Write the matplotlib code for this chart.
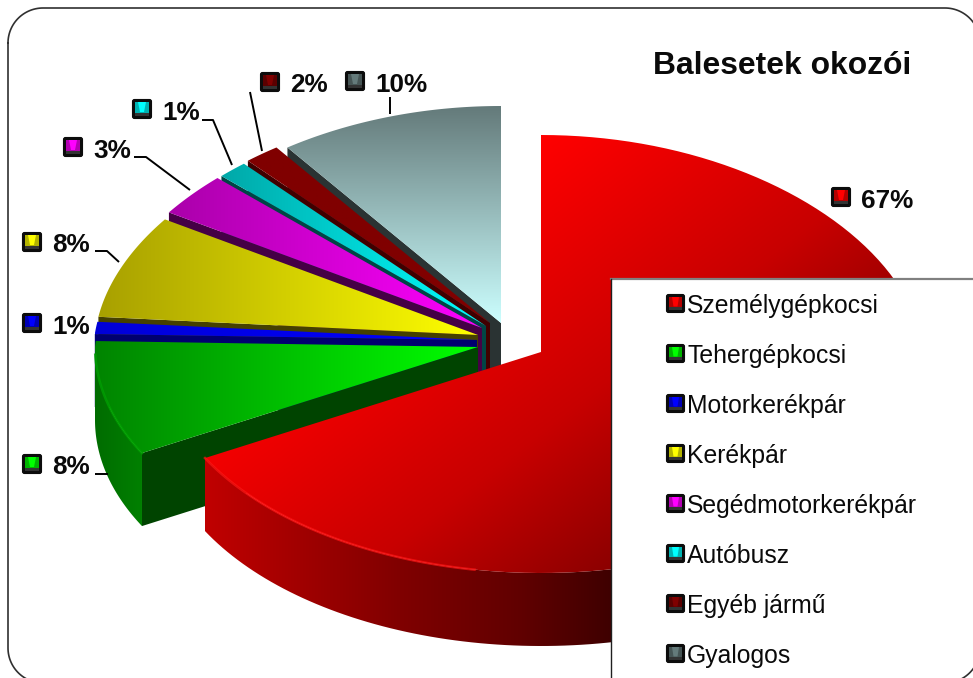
import numpy as np
import matplotlib
matplotlib.use("Agg")
import matplotlib.pyplot as plt
from matplotlib.colors import LinearSegmentedColormap, to_rgb
from matplotlib.patches import FancyBboxPatch, Polygon, Rectangle

plt.rcParams["font.family"] = ["Liberation Sans", "DejaVu Sans"]

# data
title = "Balesetek okozói"
categories = ["Személygépkocsi", "Tehergépkocsi", "Motorkerékpár", "Kerékpár",
              "Segédmotorkerékpár", "Autóbusz", "Egyéb jármű", "Gyalogos"]
shares = [67, 8.4, 0.9, 7.6, 3.2, 1.3, 1.55, 10]

# slice styles, same order as categories
top_dark = ["#a80000", "#008400", "#0000d8", "#a8a000", "#aa00aa", "#00a8a8", "#800000", "#647a7a"]
top_light = ["#ff0000", "#00ff00", "#0000ff", "#ffff00", "#ff00ff", "#00ffff", "#800000", "#ccffff"]
wall_col = ["#400000", "#004400", "#000070", "#454000", "#450045", "#004545", "#400000", "#2a3333"]
rim_left = ["#c00000", "#006c00", "#0000d8", "#808000", "#800080", "#008080", "#600000", "#405050"]
rim_right = ["#300000", "#008000", "#0000d8", "#808000", "#800080", "#008080", "#600000", "#405050"]
apex = [(541, 352), (478, 347), (477, 340), (478, 335), (482, 328), (486, 326), (490, 323), (501, 323)]

# label styles: marker left/top
pct_pos = [(831, 187), (22, 454), (22, 313), (22, 232), (63, 137), (132, 99), (260, 72), (345, 71)]
leaders = [None,
           [(95, 474), (108, 474)],
           None,
           [(95, 251), (107, 251), (119, 262)],
           [(134, 157), (146, 157), (190, 190)],
           [(202, 120), (213, 120), (232, 165)],
           [(250, 92), (262, 151)],
           [(390, 97), (390, 114)]]
legend_y = [305, 355, 405, 455, 505, 555, 605, 655]

DEPTH = 73
RX, RY_BACK, RY_FRONT = 383, 217, 221

W, H = 973, 678
fig = plt.figure(figsize=(W / 100, H / 100), dpi=100)
ax = fig.add_axes([0, 0, 1, 1])
ax.set_xlim(0, W)
ax.set_ylim(H, 0)
ax.axis("off")


def rim_points(center, a0, a1, n=120):
    # angles in degrees, clockwise from 12 o'clock
    a = np.radians(np.linspace(a0, a1, n))
    f = 1 - 0.064 * np.maximum(np.cos(a), 0)
    ry = np.where(np.cos(a) > 0, RY_BACK, RY_FRONT)
    return np.column_stack([center[0] + RX * np.sin(a) * f, center[1] - ry * np.cos(a)])


def gradient_fill(poly, stops, vertical=False, zorder=1, diag=None):
    # gradient clipped to a polygon, diag = (kx, ky, t0, t1) for a slanted one
    cmap = LinearSegmentedColormap.from_list("g", stops)
    x0, y0 = poly.min(axis=0)
    x1, y1 = poly.max(axis=0)
    if diag:
        xx, yy = np.meshgrid(np.linspace(x0, x1, 400), np.linspace(y0, y1, 400))
        grad = (diag[0] * xx + diag[1] * yy - diag[2]) / (diag[3] - diag[2])
    else:
        grad = np.linspace(0, 1, 256)
        grad = grad[:, None] if vertical else grad[None, :]
    im = ax.imshow(grad, cmap=cmap, vmin=0, vmax=1, extent=(x0, x1, y1, y0), aspect="auto",
                   interpolation="bilinear", zorder=zorder)
    patch = Polygon(poly, closed=True, fc="none", ec="none")
    ax.add_patch(patch)
    im.set_clip_path(patch)
    ax.set_xlim(0, W)
    ax.set_ylim(H, 0)


def shade(col, k):
    return tuple(v * k for v in to_rgb(col))


def marker(x, y, col, size, z):
    # bevelled legend key: black box, four faces meeting near the middle
    ax.add_patch(FancyBboxPatch((x + 0.5, y + 0.5), size - 1, size - 1,
                                boxstyle="round,pad=0,rounding_size=2",
                                fc="#0c0c0c", ec="#0c0c0c", lw=0.8, zorder=z))
    a, b = x + 3, y + 3
    e, f = x + size - 3, y + size - 3
    cx, cy = x + size / 2, y + size / 2
    ax.add_patch(Polygon([(a, b), (e, b), (e, f - 3), (a, f - 3)], fc=shade(col, 0.7), ec="none", zorder=z + 1))
    ax.add_patch(Polygon([(a + 3, b), (e - 3, b), (cx + 2, cy + 3), (cx - 2, cy + 3)], fc=col, ec="none", zorder=z + 2))
    ax.add_patch(Polygon([(a, f - 3), (e, f - 3), (e, f), (a, f)], fc=(0.2, 0.2, 0.2), ec="none", zorder=z + 1))


# cumulative angles from the shares
ends = np.cumsum(shares) / np.sum(shares) * 360
starts = np.concatenate([[0], ends[:-1]])

# paint back to front: Gyalogos first, Személygépkocsi last
z = 1
for i in range(len(shares) - 1, -1, -1):
    c, a0, a1 = apex[i], starts[i], ends[i]
    rim = rim_points(c, a0, a1)

    # wall of the leading radial edge
    if i > 0:
        edge = rim_points(c, a0, a0, 1)[0]
        wall = np.array([c, edge, (edge[0], edge[1] + DEPTH), (c[0], c[1] + DEPTH)])
        ax.add_patch(Polygon(wall, fc=wall_col[i], ec="none", zorder=z))
        z += 1

    # outer wall, only the front half of the arc shows
    a_front0, a_front1 = max(a0, 90), min(a1, 270)
    if a_front1 > a_front0:
        front = rim_points(c, a_front0, a_front1)
        poly = np.vstack([front, front[::-1] + [0, DEPTH]])
        if i == 0:
            gradient_fill(poly, [(0, "#c00000"), (0.27, "#800000"), (0.44, "#600000"),
                                 (0.56, "#400000"), (1, "#300000")], zorder=z)
        else:
            gradient_fill(poly, [rim_left[i], rim_right[i]], zorder=z)
        z += 1

    # top face
    top = np.vstack([c, rim])
    if i == 7:
        gradient_fill(top, [top_dark[i], top_light[i]], vertical=True, zorder=z)
    elif i == 0:
        gradient_fill(top, [(0, "#ff0000"), (0.6, "#c80000"), (1, "#8a0000")], zorder=z,
                      diag=(1, 1.3, 720, 1360))
    else:
        gradient_fill(top, [top_dark[i], top_light[i]], zorder=z)
    z += 1

    # small highlight along the front rim
    if i == 0:
        glow = rim_points(c, 190, a1)
        ax.plot(glow[:, 0], glow[:, 1], color="#ff1414", lw=1.8, alpha=0.7, zorder=z)
        z += 1
    if i == 1:
        glow = rim_points(c, a0, 268)
        ax.plot(glow[:, 0], glow[:, 1], color="#00a000", lw=1.8, alpha=0.8, zorder=z)
        z += 1

# legend box
ax.add_patch(Rectangle((611, 279), 400, 450, fc="white", ec="none", zorder=60))
ax.plot([611, W], [279, 279], color="#808080", lw=1.6, zorder=61)
ax.plot([611, 611], [279, H], color="#202020", lw=1, zorder=61)
for i, name in enumerate(categories):
    marker(666, legend_y[i] - 11, top_light[i] if i not in (6, 7) else top_dark[i], 19, 62)
    ax.text(687, legend_y[i] + 8, name, fontsize=17.85, color="#0a0a0a", va="baseline", ha="left", zorder=70)

# percent labels
for i, share in enumerate(shares):
    x, y = pct_pos[i]
    marker(x, y, top_light[i] if i not in (6, 7) else top_dark[i], 20, 62)
    ax.text(x + 30, y + 20.5, f"{share:.0f}%", fontsize=18.8, fontweight="bold", color="#0a0a0a",
            va="baseline", ha="left", zorder=70)
    if leaders[i]:
        pts = np.array(leaders[i])
        ax.plot(pts[:, 0], pts[:, 1], color="#000000", lw=1.4, zorder=59, solid_capstyle="butt")

ax.text(653, 73.5, title, fontsize=22.9, fontweight="bold", color="#0a0a0a",
        va="baseline", ha="left", zorder=70)

# slide frame, runs past the right and bottom edge
fx0, fy0, fx1, fy1, fr = 8, 8, 980, 683, 35
corner_t = np.radians(np.linspace(0, 90, 30))
frame_x = np.concatenate([fx0 + fr - fr * np.cos(corner_t), fx1 - fr + fr * np.sin(corner_t),
                          fx1 - fr + fr * np.cos(corner_t), fx0 + fr - fr * np.sin(corner_t)])
frame_y = np.concatenate([fy0 + fr - fr * np.sin(corner_t), fy0 + fr - fr * np.cos(corner_t),
                          fy1 - fr + fr * np.sin(corner_t), fy1 - fr + fr * np.cos(corner_t)])
ax.plot(np.append(frame_x, frame_x[0]), np.append(frame_y, frame_y[0]), color="#303030", lw=1.2, zorder=80)

fig.savefig("out.png", dpi=100)
